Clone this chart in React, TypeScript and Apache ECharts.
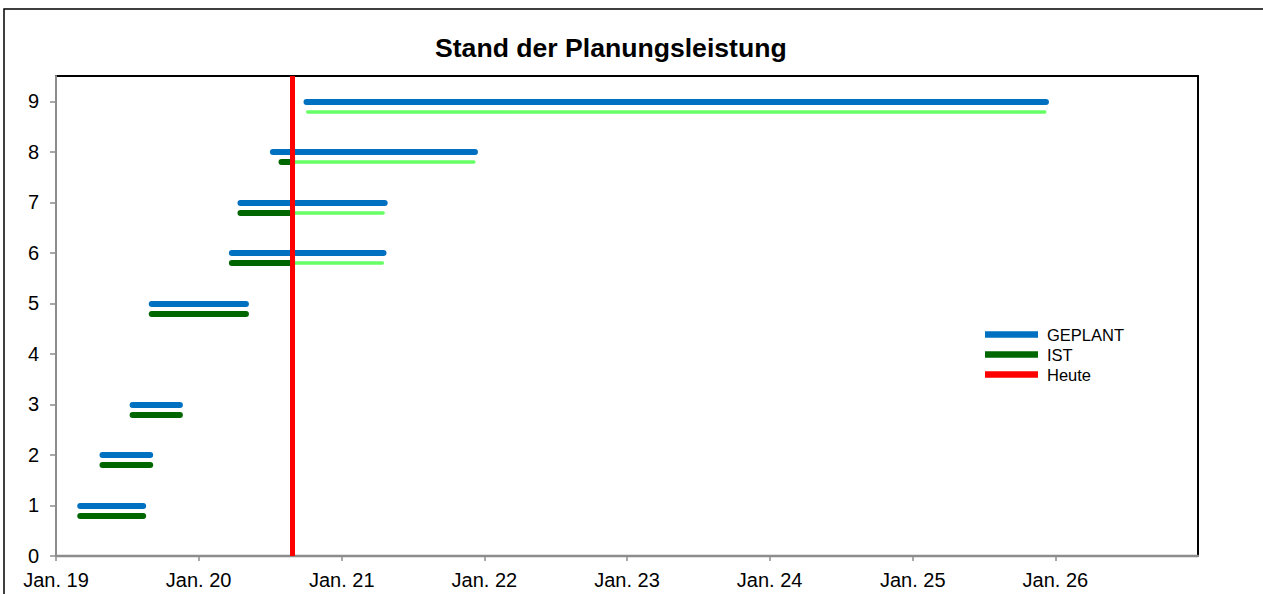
import React, { useEffect, useRef } from "react";
import * as echarts from "echarts";

// ---- data ----
const rows = [1, 2, 3, 5, 6, 7, 8, 9];
const plannedStart = ["2019-03-04", "2019-04-30", "2019-07-16", "2019-09-03", "2020-03-26", "2020-04-17", "2020-07-09", "2020-10-03"];
const plannedEnd = ["2019-08-12", "2019-08-30", "2019-11-14", "2020-05-01", "2021-04-18", "2021-04-21", "2021-12-08", "2025-12-08"];
const actualStart = ["2019-03-04", "2019-04-30", "2019-07-16", "2019-09-03", "2020-03-26", "2020-04-17", "2020-07-31", "2020-10-06"];
const actualEnd = ["2019-08-12", "2019-08-30", "2019-11-14", "2020-05-01", "2021-04-15", "2021-04-17", "2021-12-05", "2025-12-05"];
const today = "2020-08-28";
const istOffset = 0.2;

const xMin = "2019-01-01";
const xMax = "2027-01-01";
const xTickLabels = ["Jan. 19", "Jan. 20", "Jan. 21", "Jan. 22", "Jan. 23", "Jan. 24", "Jan. 25", "Jan. 26", "Jan. 27"];
const yTicks = [0, 1, 2, 3, 4, 5, 6, 7, 8, 9];
const yMax = 9.5;

const legendNames = ["GEPLANT", "IST", "Heute"];
const COLORS = { planned: "#0070C0", ist: "#006600", rest: "#66FF66", today: "#FF0000" };

function t(s: string): number {
  const [y, m, d] = s.split("-").map(Number);
  return new Date(y, m - 1, d).getTime();
}

export default function App() {
  const ref = useRef<HTMLDivElement>(null);
  useEffect(() => {
    if (!ref.current) return;
    const chart = echarts.init(ref.current, undefined, { renderer: "svg" });
    const tToday = t(today);

    const plannedData = rows.map((r, i) => ({ coords: [[t(plannedStart[i]), r], [t(plannedEnd[i]), r]] }));
    const istData: any[] = [];
    const restData: any[] = [];
    rows.forEach((r, i) => {
      const s = t(actualStart[i]);
      const e = t(actualEnd[i]);
      const y = r - istOffset;
      if (s < tToday) istData.push({ coords: [[s, y], [Math.min(e, tToday), y]] });
      if (e > tToday) restData.push({ coords: [[Math.max(s, tToday), y], [e, y]] });
    });
    const todayData = [{ coords: [[tToday, 0], [tToday, yMax]] }];

    const font = "'Liberation Sans', Arial, sans-serif";
    const startYear = new Date(t(xMin)).getFullYear();

    chart.setOption({
      animation: false,
      backgroundColor: "#fff",
      textStyle: { fontFamily: font },
      title: {
        text: "Stand der Planungsleistung",
        left: 430,
        top: 29,
        textStyle: { fontFamily: font, fontSize: 26.6, fontWeight: "bold", color: "#000" },
      },
      graphic: [
        {
          type: "rect",
          shape: { x: 4, y: 9, width: 1400, height: 800 },
          style: { fill: "none", stroke: "#000", lineWidth: 1.5 },
          silent: true,
          z: -10,
        },
      ],
      legend: {
        orient: "vertical",
        left: 980,
        top: 321,
        icon: "rect",
        itemWidth: 53,
        itemHeight: 6.5,
        itemGap: 3,
        selectedMode: false,
        textStyle: { fontFamily: font, fontSize: 16.5, color: "#000", padding: [0, 0, 0, 4] },
        data: [
          { name: legendNames[0], itemStyle: { color: COLORS.planned, borderWidth: 0 } },
          { name: legendNames[1], itemStyle: { color: COLORS.ist, borderWidth: 0 } },
          { name: legendNames[2], itemStyle: { color: COLORS.today, borderWidth: 0 } },
        ],
      },
      grid: {
        left: 56,
        top: 76,
        right: 65,
        bottom: 38,
        show: true,
        borderColor: "#000",
        borderWidth: 2,
        backgroundColor: "#fff",
        outerBoundsMode: "none",
        containLabel: false,
      },
      xAxis: {
        type: "time",
        min: t(xMin),
        max: t(xMax),
        splitNumber: 8,
        minInterval: 365 * 24 * 3600 * 1000,
        maxInterval: 366 * 24 * 3600 * 1000,
        axisLine: { show: true, lineStyle: { color: "#8c8c8c", width: 2.3 } },
        axisTick: { show: true, length: 5, lineStyle: { color: "#8c8c8c", width: 1.5 } },
        splitLine: { show: false },
        axisLabel: {
          margin: 14,
          fontFamily: font,
          fontSize: 20,
          color: "#000",
          showMaxLabel: false,
          formatter: (v: number) => {
            const idx = new Date(v).getFullYear() - startYear;
            return xTickLabels[idx] ?? "";
          },
        },
      },
      yAxis: {
        type: "value",
        min: 0,
        max: yMax,
        interval: 1,
        axisLine: { show: true, lineStyle: { color: "#8c8c8c", width: 2 } },
        axisTick: { show: true, length: 6, customValues: yTicks, lineStyle: { color: "#8c8c8c", width: 1.5 } },
        splitLine: { show: false },
        axisLabel: {
          margin: 17,
          fontFamily: font,
          fontSize: 20,
          color: "#000",
          customValues: yTicks,
        },
      },
      series: [
        {
          name: "GEPLANT",
          type: "lines",
          coordinateSystem: "cartesian2d",
          silent: true,
          z: 2,
          lineStyle: { color: COLORS.planned, width: 6, opacity: 1, cap: "round" },
          data: plannedData,
        },
        {
          name: "IST",
          type: "lines",
          coordinateSystem: "cartesian2d",
          silent: true,
          z: 3,
          lineStyle: { color: COLORS.ist, width: 6, opacity: 1, cap: "round" },
          data: istData,
        },
        {
          name: "IST Rest",
          type: "lines",
          coordinateSystem: "cartesian2d",
          silent: true,
          z: 4,
          lineStyle: { color: COLORS.rest, width: 3.5, opacity: 1, cap: "round" },
          data: restData,
        },
        {
          name: "Heute",
          type: "lines",
          coordinateSystem: "cartesian2d",
          silent: true,
          z: 5,
          lineStyle: { color: COLORS.today, width: 5, opacity: 1, cap: "butt" },
          data: todayData,
        },
      ],
    });
    return () => chart.dispose();
  }, []);
  return <div ref={ref} style={{ position: "absolute", left: 0, top: 0, width: 1263, height: 594 }} />;
}
